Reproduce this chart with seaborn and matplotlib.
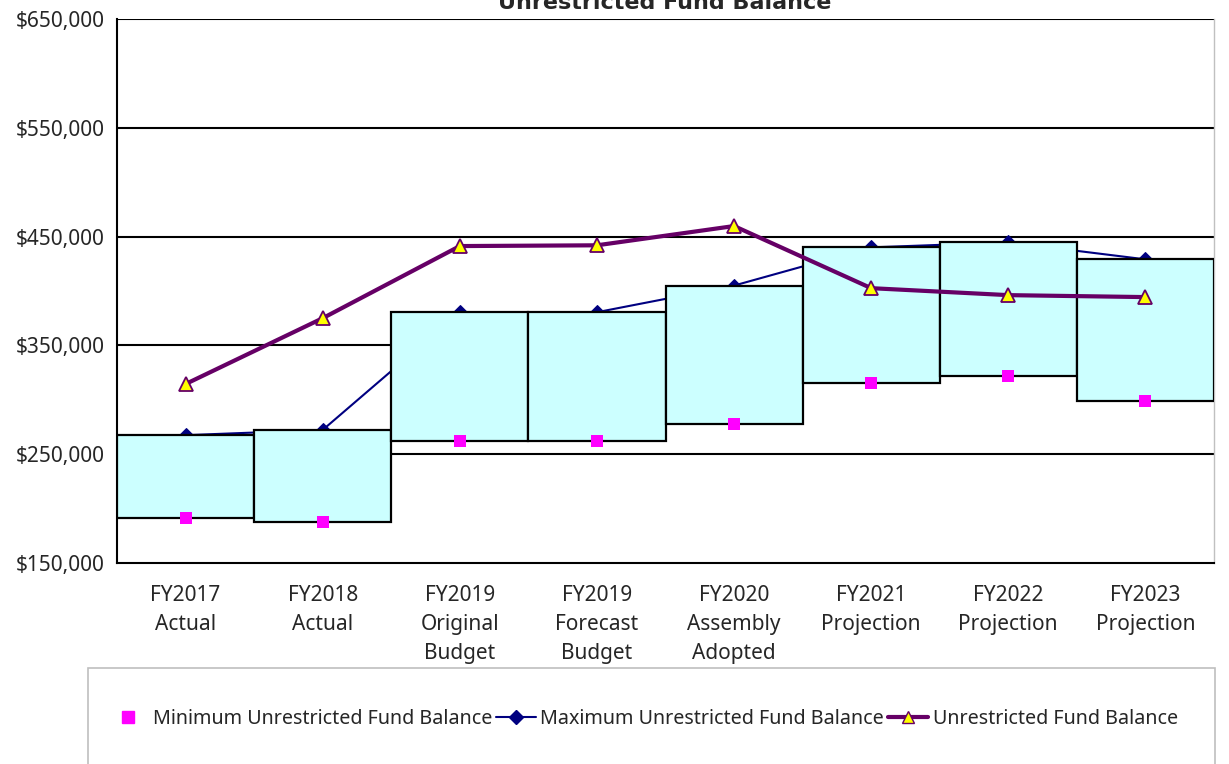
"""
Unrestricted fund balance chart: min/max band as boxes, with the
actual/projected balance drawn on top.
"""

import matplotlib.pyplot as plt
import numpy as np
import pandas as pd
import seaborn as sns
from matplotlib.patches import Rectangle
from matplotlib.ticker import FuncFormatter, FixedLocator

categories = [
    "FY2017\nActual",
    "FY2018\nActual",
    "FY2019\nOriginal\nBudget",
    "FY2019\nForecast\nBudget",
    "FY2020\nAssembly\nAdopted",
    "FY2021\nProjection",
    "FY2022\nProjection",
    "FY2023\nProjection",
]
min_balance = [191300, 187500, 262200, 262200, 277700, 315300, 322300, 298700]
max_balance = [267500, 272300, 380500, 380500, 405000, 440100, 444700, 429100]
fund_balance = [314500, 375000, 441300, 442000, 459700, 402600, 396200, 394400]

df = pd.DataFrame({
    "category": categories,
    "min": min_balance,
    "max": max_balance,
    "balance": fund_balance,
})
df["span"] = df["max"] - df["min"]

sns.set_theme(style="white")
plt.rcParams["font.family"] = ["Noto Sans", "DejaVu Sans"]

fig = plt.figure(figsize=(12.29, 7.64), dpi=100)
ax = fig.add_axes([117 / 1229, 1 - 563 / 764, 1097 / 1229, 544 / 764])

# max line sits behind the boxes
sns.lineplot(
    data=df, x="category", y="max", sort=False, ax=ax,
    color="#000080", linewidth=1.5, marker="D", markersize=7,
    markeredgecolor="#000080", zorder=2,
)

# min-to-max band
sns.barplot(
    data=df, x="category", y="span", bottom=df["min"], ax=ax,
    color="#CCFFFF", edgecolor="black", linewidth=1.6, width=1.0,
    saturation=1, zorder=3,
)

sns.scatterplot(
    data=df, x="category", y="min", ax=ax, color="#FF00FF",
    marker="s", s=80, linewidth=0, zorder=4,
)

sns.lineplot(
    data=df, x="category", y="balance", sort=False, ax=ax,
    color="#660066", linewidth=3, marker="^", markersize=9.5,
    markerfacecolor="#FFFF00", markeredgecolor="#660066",
    markeredgewidth=1.3, zorder=5,
)

ax.set_ylim(150000, 650000)
ax.set_xlim(-0.5, len(categories) - 0.5)
ax.set_yticks(np.arange(150000, 650001, 100000))
ax.yaxis.set_major_formatter(FuncFormatter(lambda v, _: f"${v:,.0f}"))
for yv in range(250000, 650001, 100000):
    ax.axhline(yv, color="black", linewidth=1.5, zorder=1)

ax.set_xticks(range(len(categories)))
ax.set_xticklabels(categories, linespacing=1.5)
ax.xaxis.set_minor_locator(FixedLocator(np.arange(-0.5, len(categories), 1.0)))
ax.tick_params(axis="x", which="major", length=0, pad=16, labelsize=15)
ax.tick_params(axis="x", which="minor", length=7, color="#A0A0A0",
               direction="inout", width=1)
ax.tick_params(axis="y", length=5, color="#A0A0A0", labelsize=15, pad=4)
ax.set_xlabel("")
ax.set_ylabel("")

for side in ["left", "bottom"]:
    ax.spines[side].set_color("black")
    ax.spines[side].set_linewidth(1.5)
ax.spines["top"].set_visible(False)
ax.spines["right"].set_color("#C0C0C0")
ax.spines["right"].set_linewidth(1)

fig.text(665 / 1229, 1 - 9 / 764, "Unrestricted Fund Balance",
         ha="center", va="baseline", fontsize=16, fontweight="bold",
         family=["DejaVu Sans"])

# legend panel
fig.patches.append(Rectangle(
    (88 / 1229, -0.05), (1215 - 88) / 1229, 0.05 + (764 - 668) / 764,
    transform=fig.transFigure, facecolor="white", edgecolor="#BFBFBF",
    linewidth=1.2,
))
handles = [
    plt.Line2D([], [], color="#FF00FF", marker="s", linestyle="none",
               markersize=8),
    plt.Line2D([], [], color="#000080", marker="D", linewidth=1.5,
               markersize=7),
    plt.Line2D([], [], color="#660066", marker="^", linewidth=3,
               markersize=9, markerfacecolor="#FFFF00",
               markeredgecolor="#660066"),
]
labels = [
    "Minimum Unrestricted Fund Balance",
    "Maximum Unrestricted Fund Balance",
    "Unrestricted Fund Balance",
]
fig.legend(handles, labels, loc="center", ncol=3,
           bbox_to_anchor=(643 / 1229, 1 - 719 / 764), frameon=False,
           fontsize=14.2, handlelength=2.0, handletextpad=0.25,
           columnspacing=0.2)

fig.savefig("out.png", dpi=100, facecolor="white")
